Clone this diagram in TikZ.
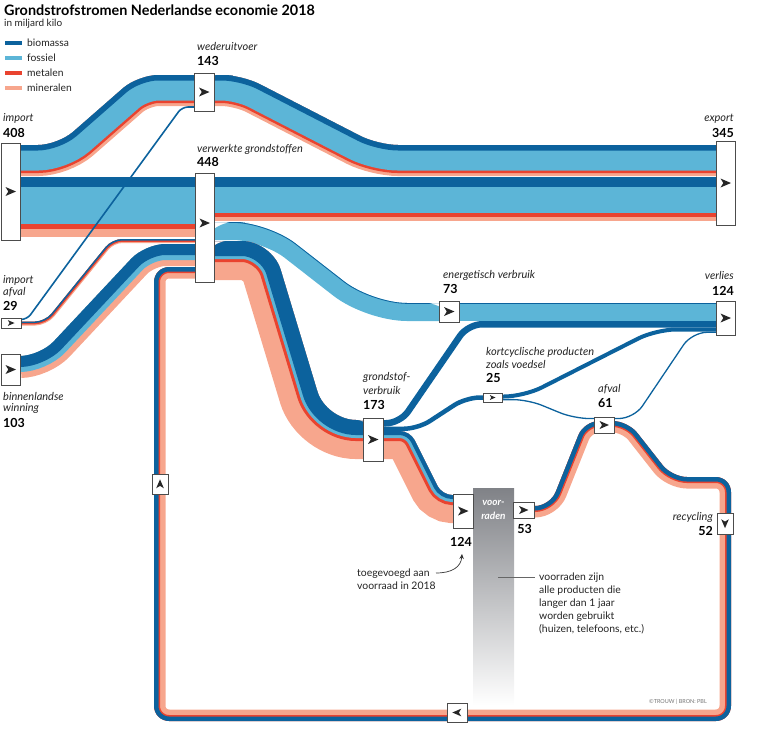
\documentclass[tikz,border=0pt]{standalone}
\usepackage{fontspec}
\setmainfont{Lato}
\usetikzlibrary{arrows.meta}

\definecolor{biomassa}{RGB}{12,98,157}
\definecolor{fossiel}{RGB}{92,181,215}
\definecolor{metalen}{RGB}{233,67,47}
\definecolor{mineralen}{RGB}{247,166,141}
\definecolor{voorraad}{RGB}{128,130,135}
\definecolor{tekst}{RGB}{35,35,35}

% band: edge path (outer side), closing of the clip, layers colour/width
\newcommand{\band}[4][15]{%
  \begin{scope}
    \clip[rounded corners=#1] #2 #3 -- cycle;
    \foreach \kl/\wd in {#4}{
      \pgfmathsetmacro\lw{2*\wd}
      \draw[\kl, line width=\lw pt, rounded corners=#1] #2;}
  \end{scope}}

\tikzset{
  box/.style={draw=black!70, fill=white, line width=0.7pt, inner sep=0pt},
  pointer/.pic={\fill[black!85] (5.5,0) -- (-5,-4.5) -- (-2.2,0) -- (-5,4.5) -- cycle;},
  lbl/.style={font=\fontsize{11}{12}\selectfont\itshape, text=tekst, anchor=base west, inner sep=0pt},
  num/.style={font=\fontsize{12.5}{14}\selectfont\bfseries, text=black, anchor=base west, inner sep=0pt},
  txt/.style={font=\fontsize{10.4}{13}\selectfont, text=tekst, anchor=base west, inner sep=0pt},
  legtxt/.style={font=\fontsize{10.3}{11}\selectfont, text=tekst, anchor=west, inner sep=0pt}
}

\begin{document}
\begin{tikzpicture}[x=1pt, y=-1pt]
\useasboundingbox (0,0) rectangle (763,734);

% voorraden
\shade[top color=voorraad, bottom color=white] (473,488) rectangle (514,705);

% kringloop: voorraden -> afval -> recycling -> verwerkte grondstoffen
\band[15]{(534,506) -- (550,506) -- (584,421) -- (628,421) -- (672,477) -- (731,477) -- (731,721) -- (154,721) -- (154,267) -- (195,267)}
  {-- (215,267) -- (215,300) -- (520,540) -- (514,540) -- (514,506)}
  {mineralen/11.5, metalen/6, biomassa/4.5}

% import -> wederuitvoer -> export
\band[20]{(20,145) -- (58,145) -- (138,75) -- (195,75)}
  {-- (215,75) -- (215,400) -- (0,400) -- (0,145)}
  {mineralen/31, metalen/28, fossiel/25.5, biomassa/5.5}
\band[20]{(213,75) -- (242,75) -- (378,145) -- (716,145)}
  {-- (736,145) -- (736,400) -- (200,400) -- (200,75)}
  {mineralen/31, metalen/28, fossiel/25.5, biomassa/5.5}

% import -> verwerkte grondstoffen -> export
\foreach \kl/\a/\b in {biomassa/177/187, fossiel/187/224, metalen/224/229, mineralen/229/237}
  \fill[\kl] (20,\a) rectangle (195,\b);
\foreach \kl/\a/\b in {biomassa/177/187, fossiel/187/213, metalen/213/217, mineralen/217/221}
  \fill[\kl] (214,\a) rectangle (716,\b);

% import afval
\draw[biomassa, line width=1.6, rounded corners=6] (21,319.5) -- (27,319.5) -- (182,107) -- (194,107);
\band[10]{(21,321.5) -- (45,321.5) -- (112,239) -- (195,239)}
  {-- (215,239) -- (215,340) -- (0,340) -- (0,321.5)}
  {mineralen/4, metalen/2.8, biomassa/1.5}

% binnenlandse winning
\band[20]{(20,356) -- (40,356) -- (145,244) -- (195,244)}
  {-- (215,244) -- (215,420) -- (0,420) -- (0,356)}
  {mineralen/22, fossiel/16, biomassa/11}

% energetisch verbruik
\band[35]{(214,222) -- (268,222) -- (372,303) -- (439,303)}
  {-- (459,303) -- (459,600) -- (200,600) -- (200,222)}
  {fossiel/18, biomassa/0.8}
\fill[fossiel] (459,303) rectangle (716,321);
\fill[biomassa] (459,303) rectangle (716,303.8);

% grondstofverbruik
\band[30]{(214,241) -- (272,241) -- (326,420) -- (363,420)}
  {-- (383,420) -- (383,600) -- (200,600) -- (200,241)}
  {mineralen/39, metalen/21, fossiel/18, biomassa/15}
\draw[biomassa, line width=6.5, rounded corners=14] (383,423.25) -- (400,423.25) -- (468,324.25) -- (716,324.25);
\draw[biomassa, line width=4.5, rounded corners=14] (383,428.75) -- (418,428.75) -- (466,397.5) -- (483,397.5);
\draw[biomassa, line width=4, rounded corners=20] (502,396.5) -- (524,396.5) -- (656,329.5) -- (716,329.5);
\draw[biomassa, line width=1.3, rounded corners=15] (502,399.6) -- (528,399.6) -- (574,418.5) -- (594,418.5);
\draw[biomassa, line width=1.3, rounded corners=15] (614,418.5) -- (634,418.5) -- (692,332.3) -- (716,332.3);
\band[10]{(383,431) -- (410,431) -- (442,495) -- (453,495)}
  {-- (473,495) -- (473,600) -- (370,600) -- (370,431)}
  {mineralen/28, metalen/10, fossiel/7, biomassa/4}

\node[font=\fontsize{10}{11}\selectfont\bfseries\itshape, text=white, anchor=base, inner sep=0pt] (voor1) at (493.5,505) {voor-};
\node[font=\fontsize{10}{11}\selectfont\bfseries\itshape, text=white, anchor=base, inner sep=0pt] (voor2) at (493.5,519) {raden};

% knooppunten
\node[box, minimum width=19, minimum height=97] (import) at (10.5,191.5) {};
\node[box, minimum width=20, minimum height=38] (wederuit) at (204,92) {};
\node[box, minimum width=19, minimum height=109] (verwerkt) at (204.5,227.5) {};
\node[box, minimum width=19, minimum height=84] (export) at (725.5,183) {};
\node[box, minimum width=20, minimum height=10] (impafval) at (11,323) {};
\node[box, minimum width=19, minimum height=31] (binnen) at (10.5,369.5) {};
\node[box, minimum width=20, minimum height=21] (energ) at (449,311.5) {};
\node[box, minimum width=19, minimum height=34] (verlies) at (725.5,318) {};
\node[box, minimum width=20, minimum height=43] (grondverbr) at (373,439.5) {};
\node[box, minimum width=19, minimum height=9] (kort) at (492.5,397.5) {};
\node[box, minimum width=20, minimum height=16] (afval) at (604,425) {};
\node[box, minimum width=20, minimum height=34] (voorin) at (463,511) {};
\node[box, minimum width=21, minimum height=16] (voorout) at (523.5,510) {};
\node[box, minimum width=16, minimum height=21] (recyc) at (725,523.5) {};
\node[box, minimum width=16, minimum height=20] (retour) at (160,484) {};
\node[box, minimum width=20, minimum height=19] (onder) at (457,712.5) {};

\pic at (import) {pointer};
\pic at (wederuit) {pointer};
\pic at (204.5,223) {pointer};
\pic at (export) {pointer};
\pic[scale=0.65] at (impafval) {pointer};
\pic at (binnen) {pointer};
\pic at (energ) {pointer};
\pic at (verlies) {pointer};
\pic at (grondverbr) {pointer};
\pic[scale=0.55] at (kort) {pointer};
\pic[scale=0.9] at (afval) {pointer};
\pic at (voorin) {pointer};
\pic[scale=0.9] at (voorout) {pointer};
\pic[rotate=-90, scale=0.85] at (recyc) {pointer};
\pic[rotate=90, scale=0.85] at (retour) {pointer};
\pic[rotate=180, scale=0.85] at (onder) {pointer};

% titel en legenda
\node[font=\fontsize{14.4}{16}\selectfont\bfseries, text=black, anchor=base west, inner sep=0pt] (titel) at (4,15.5) {Grondstrofstromen Nederlandse economie 2018};
\node[font=\fontsize{10}{11}\selectfont, text=tekst, anchor=base west, inner sep=0pt] (eenheid) at (4,26.5) {in miljard kilo};
\foreach \kl [count=\i from 0] in {biomassa, fossiel, metalen, mineralen}{
  \draw[\kl, line width=3.4] (5,43+15*\i) -- (22,43+15*\i);
  \node[legtxt] (leg-\kl) at (27,43+15*\i) {\kl};}

% labels
\node[lbl] (l-import) at (3,121) {import};
\node[num] (n-import) at (3,137) {408};
\node[lbl] (l-wederuit) at (197,50) {wederuitvoer};
\node[num] (n-wederuit) at (197,65.5) {143};
\node[lbl] (l-verwerkt) at (197,152) {verwerkte grondstoffen};
\node[num] (n-verwerkt) at (197,166.5) {448};
\node[lbl, anchor=base east] (l-export) at (734,121) {export};
\node[num, anchor=base east] (n-export) at (734,137) {345};
\node[lbl] (l-impafval1) at (3,283.5) {import};
\node[lbl] (l-impafval2) at (3,295.5) {afval};
\node[num] (n-impafval) at (3,310) {29};
\node[lbl] (l-binnen1) at (3,400.5) {binnenlandse};
\node[lbl] (l-binnen2) at (3,411) {winning};
\node[num] (n-binnen) at (3,427) {103};
\node[lbl] (l-energ) at (443,278) {energetisch verbruik};
\node[num] (n-energ) at (443,293) {73};
\node[lbl, anchor=base east] (l-verlies) at (734,279.5) {verlies};
\node[num, anchor=base east] (n-verlies) at (734,295) {124};
\node[lbl] (l-kort1) at (486,355) {kortcyclische producten};
\node[lbl] (l-kort2) at (486,368) {zoals voedsel};
\node[num] (n-kort) at (486,382.5) {25};
\node[lbl] (l-grondverbr1) at (363,380) {grondstof-};
\node[lbl] (l-grondverbr2) at (363,394) {verbruik};
\node[num] (n-grondverbr) at (363,409.5) {173};
\node[lbl] (l-afval) at (598,392.5) {afval};
\node[num] (n-afval) at (598,407) {61};
\node[num, anchor=base] (n-voorin) at (461,546.5) {124};
\node[num, anchor=base] (n-voorout) at (524.5,533) {53};
\node[lbl, anchor=base east] (l-recyc) at (713,520) {recycling};
\node[num, anchor=base east] (n-recyc) at (713,535) {52};

% toelichting
\node[txt] (toe1) at (357,576) {toegevoegd aan};
\node[txt] (toe2) at (357,589) {voorraad in 2018};
\draw[black!80, line width=0.7, -{Stealth[length=5pt, width=4.5pt]}] (436,573) .. controls (452,573) and (461,567) .. (462,554);
\draw[black!60, line width=0.6] (498,577) -- (535,577);
\foreach \r [count=\i from 0] in {voorraden zijn, alle producten die, langer dan 1 jaar, worden gebruikt, {(huizen, telefoons, etc.)}}
  \node[txt] (uitleg\i) at (539,580+13*\i) {\r};
\node[font=\fontsize{5.5}{6}\selectfont, text=black!55, anchor=base east, inner sep=0pt] (bron) at (707,703) {©TROUW | BRON: PBL};

\end{tikzpicture}
\end{document}
